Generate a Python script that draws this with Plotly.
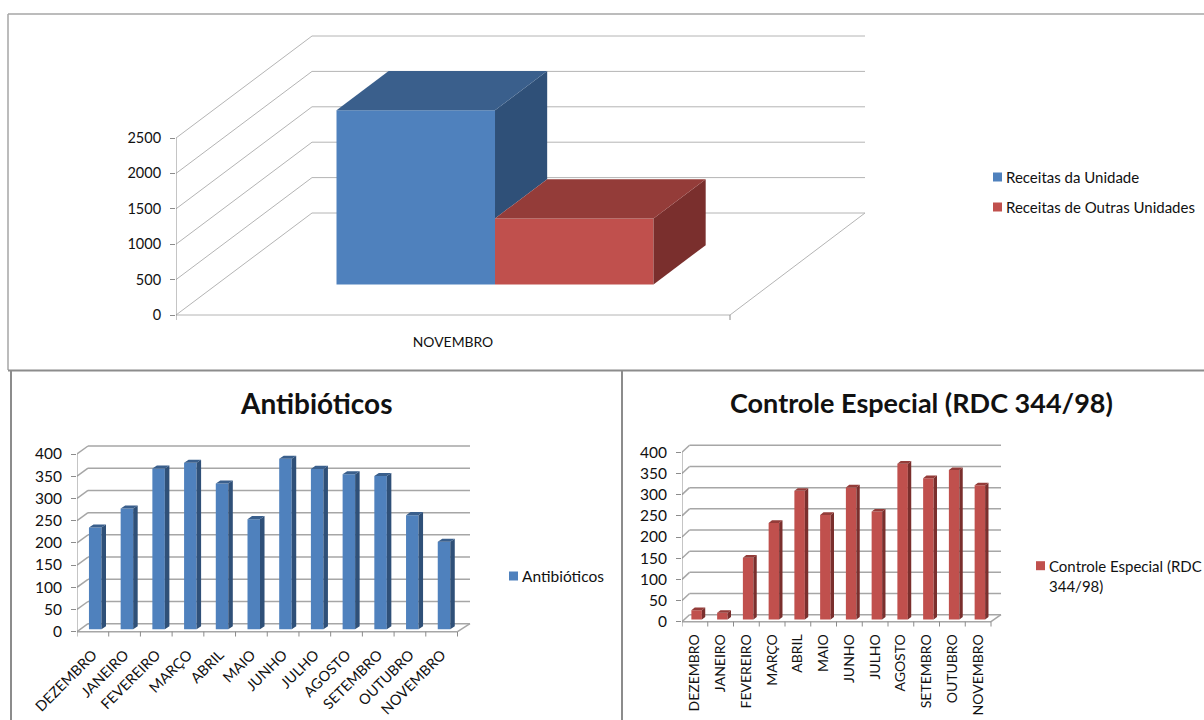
import plotly.graph_objects as go

# ---- data ----
top_category = ["NOVEMBRO"]
top_series_names = ["Receitas da Unidade", "Receitas de Outras Unidades"]
receitas_unidade = [2458]
receitas_outras = [932]
top_ticks = [0, 500, 1000, 1500, 2000, 2500]

months = ["DEZEMBRO", "JANEIRO", "FEVEREIRO", "MARÇO", "ABRIL", "MAIO", "JUNHO",
          "JULHO", "AGOSTO", "SETEMBRO", "OUTUBRO", "NOVEMBRO"]
antibioticos = [229, 272, 362, 375, 328, 248, 384, 361, 349, 345, 257, 197]
controle = [22, 16, 146, 228, 304, 247, 312, 255, 368, 334, 353, 317]
low_ticks = [0, 50, 100, 150, 200, 250, 300, 350, 400]

BLUE = ("#4f81bd", "#3a5f8c", "#2f5078")
RED = ("#c0504d", "#943c39", "#7a2f2d")
FONT = "Lato"
W, H = 1204, 720
FRONT_Y = 0.30  # bar front height above the axis, as share of floor depth
DEPTH = 0.385   # bar depth, as share of floor depth

fig = go.Figure()
shapes, annotations = [], []


def panel(idx, cats, series, ticks, x0, x1, y0, ytop, dxl, dxr, dy, barpx, gridc, gridw,
          tick_font, cat_font, angle, labelgap, tickc, front_x):
    """series: list of (name, values, colours); bars sit side by side in each category."""
    sfx = "" if idx == 1 else str(idx)
    xref, yref = "x" + sfx, "y" + sfx
    n = len(cats)
    ppu = (x1 - x0) / n
    vmax = ticks[-1]
    ppv = (y0 - ytop) / vmax
    tick_px = 5
    right = x1 + dxr + 2
    top = ytop - dy - 2
    bottom = y0 + tick_px
    xr = [-0.5, -0.5 + (right - x0) / ppu]
    yr = [-tick_px / ppv, (y0 - top) / ppv]
    ddx, ddy = dxl / ppu, dy / ppv
    xl_, xr_ = -0.5, n - 0.5
    dxr_u = dxr / ppu

    def seg(a, b, c, d, col=gridc, w=gridw):
        shapes.append(dict(type="line", xref=xref, yref=yref, x0=a, y0=b, x1=c, y1=d,
                           line=dict(color=col, width=w), layer="below"))

    for v in ticks:
        seg(xl_, v, xl_ + ddx, v + ddy)
        seg(xl_ + ddx, v + ddy, xr_ + dxr_u, v + ddy)
    seg(xl_, 0, xr_, 0)
    seg(xr_, 0, xr_ + dxr_u, ddy)
    seg(xl_, 0, xl_, vmax, tickc, 1)
    for i in range(n + 1):
        seg(i - 0.5, 0, i - 0.5, yr[0], tickc, 1)

    wu = barpx / ppu
    ns = len(series)
    mid = (dxl + dxr) / 2 / ppu
    for s, (name, vals, cols) in enumerate(series):
        xs = [i + front_x * mid + (s - (ns - 1) / 2) * wu for i in range(n)]
        base = FRONT_Y * ddy
        fig.add_trace(go.Bar(x=xs, y=vals, base=base, width=wu, name=name, xaxis=xref,
                             yaxis=yref, marker=dict(color=cols[0], line=dict(width=0)),
                             showlegend=False, hovertemplate="%{y}<extra>" + name + "</extra>"))
    for s, (name, vals, cols) in enumerate(series):
        base = FRONT_Y * ddy
        px_, py_, sx_, sy_ = [], [], [], []
        ox, oy = DEPTH * mid, DEPTH * ddy
        for i, v in enumerate(vals):
            cx = i + front_x * mid + (s - (ns - 1) / 2) * wu
            a, b = cx - wu / 2, cx + wu / 2
            t = v + base
            px_ += [a, b, b + ox, a + ox, a, None]
            py_ += [t, t, t + oy, t + oy, t, None]
            nxt = series[s + 1][1][i] + base if s + 1 < ns else base
            sx_ += [b, b + ox, b + ox, b, b, None]
            sy_ += [t, t + oy, nxt + oy, nxt, t, None]
        for xx, yy, c in ((sx_, sy_, cols[2]), (px_, py_, cols[1])):
            fig.add_trace(go.Scatter(x=xx, y=yy, xaxis=xref, yaxis=yref, mode="lines",
                                     fill="toself", fillcolor=c, line=dict(width=0, color=c),
                                     showlegend=False, hoverinfo="skip"))

    fig.update_layout({
        "xaxis" + sfx: dict(domain=[x0 / W, right / W], range=xr, anchor=yref,
                            tickmode="array", tickvals=list(range(n)), ticktext=cats,
                            tickangle=angle, ticks="outside", ticklen=labelgap,
                            tickcolor="rgba(0,0,0,0)", showgrid=False, zeroline=False,
                            showline=False, tickfont=dict(family=FONT, size=cat_font, color="#111")),
        "yaxis" + sfx: dict(domain=[1 - bottom / H, 1 - top / H], range=yr, anchor=xref,
                            tickmode="array", tickvals=ticks, ticks="outside", ticklen=5,
                            tickcolor=tickc, showgrid=False, zeroline=False, showline=False,
                            ticklabelstandoff=6,
                            tickfont=dict(family=FONT, size=tick_font, color="#111")),
    })


panel(1, top_category,
      [(top_series_names[0], receitas_unidade, BLUE), (top_series_names[1], receitas_outras, RED)],
      top_ticks, 176, 730, 315, 138, 136, 135, 102, 158.5, "#b4b4b4", 1, 14.5, 13.9, 0, 9, "#8c8c8c", 0.31)
panel(2, months, [("Antibióticos", antibioticos, BLUE)], low_ticks,
      77, 457.5, 631.7, 454, 11, 12.5, 8, 12.5, "#a6a6a6", 1.5, 15.5, 14.5, -45, 3, "#8c8c8c", 0.2)
panel(3, months, [("Controle Especial (RDC 344/98)", controle, RED)], low_ticks,
      682, 991, 621.7, 452.3, 7.5, 10, 7, 10.5, "#a6a6a6", 1.5, 15.5, 14, -90, 1, "#8c8c8c", 0.2)


def px_line(a, b, c, d, col, w):
    shapes.append(dict(type="line", xref="paper", yref="paper", x0=a / W, y0=1 - b / H,
                       x1=c / W, y1=1 - d / H, line=dict(color=col, width=w), layer="above"))


# frames
px_line(8, 14, 1204, 14, "#a6a6a6", 1.5)
px_line(8, 14, 8, 370, "#a6a6a6", 1.5)
px_line(8, 370.5, 1204, 370.5, "#8c8c8c", 2)
px_line(11, 371, 11, 720, "#8c8c8c", 2)
px_line(622, 371, 622, 720, "#8c8c8c", 2)


def text(x, y, s, size, anchor="left", bold=False):
    annotations.append(dict(xref="paper", yref="paper", x=x / W, y=1 - y / H, text=("<b>%s</b>" % s) if bold else s,
                            showarrow=False, xanchor=anchor, yanchor="middle", align="left",
                            font=dict(family=FONT, size=size, color="#111"),
                            borderpad=0))


def key(x, y, s, col, size, sq=9):
    shapes.append(dict(type="rect", xref="paper", yref="paper", x0=x / W, x1=(x + sq) / W,
                       y0=1 - (y + sq / 2) / H, y1=1 - (y - sq / 2) / H,
                       fillcolor=col, line=dict(width=0), layer="above"))
    text(x + sq + 3, y, s, size)


text(316, 402.5, "Antibióticos", 28, "center", True)
text(921, 402.5, "Controle Especial (RDC 344/98)", 27, "center", True)
key(993, 177, top_series_names[0], BLUE[0], 15)
key(993, 207, top_series_names[1], RED[0], 15)
key(509, 576, "Antibióticos", BLUE[0], 15.5)
key(1036, 565.7, "Controle Especial (RDC", RED[0], 15)
text(1048, 585.7, "344/98)", 15)

fig.update_layout(width=W, height=H, margin=dict(l=0, r=0, t=0, b=0, autoexpand=False),
                  paper_bgcolor="white", plot_bgcolor="rgba(0,0,0,0)", showlegend=False,
                  shapes=shapes, annotations=annotations, barmode="overlay")
fig.write_html("out.html", post_script="document.body.style.margin='0';",
               config={"displayModeBar": False})
